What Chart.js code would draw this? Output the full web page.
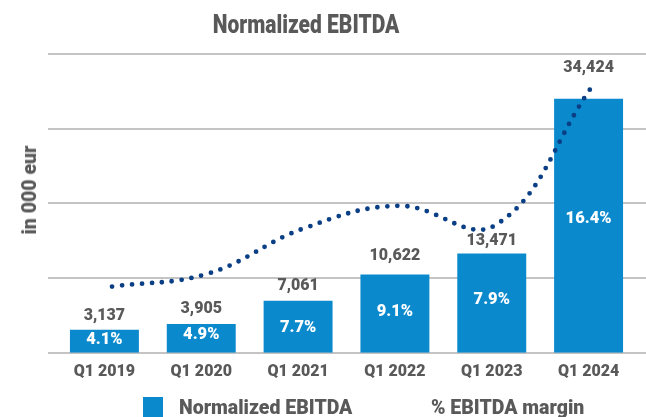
<!DOCTYPE html>
<html>
<head>
<meta charset="utf-8">
<script src="https://cdn.jsdelivr.net/npm/chart.js@4.4.1/dist/chart.umd.min.js"></script>
<style>
  html, body { margin: 0; padding: 0; background: #fff; }
  #wrap { position: relative; width: 646px; height: 417px; overflow: hidden; }
  #chart { position: absolute; left: 0; top: 0; }
  .txt { position: absolute; color: #595959; font-family: Roboto, "DejaVu Sans", sans-serif; font-weight: 900; white-space: nowrap; }
  #title { left: 306px; top: 9px; font-size: 25px; line-height: 32px; transform: translateX(-50%) scaleX(0.84); }
  #ytitle { left: 30px; top: 190px; font-size: 19.5px; line-height: 22px; transform: translate(-50%, -50%) rotate(-90deg); }
  .box { position: absolute; left: 143px; top: 397px; width: 20px; height: 22px; background: #0a89cd; }
  #leg1 { left: 179px; top: 396px; font-size: 19.5px; line-height: 24px; }
  #leg2 { left: 431px; top: 396px; font-size: 19.5px; line-height: 24px; }
</style>
</head>
<body>
<div id="wrap">
  <canvas id="chart" width="646" height="417"></canvas>
  <div class="txt" id="title">Normalized EBITDA</div>
  <div class="txt" id="ytitle">in 000 eur</div>
  <div class="box"></div>
  <div class="txt" id="leg1">Normalized EBITDA</div>
  <div class="txt" id="leg2">% EBITDA margin</div>
</div>
<script>
// data
const quarters = ["Q1 2019", "Q1 2020", "Q1 2021", "Q1 2022", "Q1 2023", "Q1 2024"];
const ebitda = [3137, 3905, 7061, 10622, 13471, 34424];
const marginPct = [4.1, 4.9, 7.7, 9.1, 7.9, 16.4];

const barBlue = "#0a89cd";
const navy = "#0a3f85";
const grey = "#595959";

// label placement tweaks (pixels)
const valueLift = [14, 15, 15, 18, 12, 31];
const pctShift = [-1, -4, 1, -2, -3, -7];

// long gridlines across the whole width
const gridPlugin = {
  id: "wideGrid",
  beforeDatasetsDraw(chart) {
    const ctx = chart.ctx;
    const y = chart.scales.y;
    ctx.save();
    ctx.strokeStyle = "#b0b0b0";
    ctx.lineWidth = 1.5;
    y.ticks.forEach(t => {
      const py = Math.round(y.getPixelForValue(t.value));
      ctx.beginPath();
      ctx.moveTo(48, py);
      ctx.lineTo(646, py);
      ctx.stroke();
    });
    ctx.restore();
  }
};

const labelPlugin = {
  id: "barLabels",
  afterDatasetsDraw(chart) {
    const ctx = chart.ctx;
    const bars = chart.getDatasetMeta(0).data;
    ctx.save();
    ctx.textAlign = "center";
    ctx.textBaseline = "middle";
    bars.forEach((bar, i) => {
      ctx.font = "900 16px Roboto, sans-serif";
      ctx.fillStyle = grey;
      ctx.fillText(ebitda[i].toLocaleString("en-US"), bar.x, bar.y - valueLift[i]);
      ctx.font = "900 16.5px Roboto, sans-serif";
      ctx.fillStyle = "#ffffff";
      ctx.fillText(marginPct[i].toFixed(1) + "%", bar.x, (bar.y + bar.base) / 2 + pctShift[i]);
    });
    ctx.restore();
  }
};

// the margin line sits slightly right of the bar centres in the original
const marginPoints = marginPct.map((v, i) => ({ x: i, y: v }));

new Chart(document.getElementById("chart"), {
  data: {
    labels: quarters,
    datasets: [
      {
        type: "bar",
        label: "Normalized EBITDA",
        data: ebitda,
        backgroundColor: barBlue,
        borderWidth: 0,
        grouped: false,
        barPercentage: 0.712,
        categoryPercentage: 1,
        xAxisID: "x",
        yAxisID: "y",
        order: 2
      },
      {
        type: "line",
        label: "% EBITDA margin",
        data: marginPoints,
        borderColor: navy,
        borderWidth: 4.8,
        borderDash: [0, 10],
        borderCapStyle: "round",
        tension: 0.4,
        pointRadius: 0,
        fill: false,
        xAxisID: "x2",
        yAxisID: "y1",
        order: 1
      }
    ]
  },
  options: {
    responsive: false,
    animation: false,
    devicePixelRatio: 1,
    layout: { padding: { left: 56, right: 9, top: 54, bottom: 25 } },
    plugins: {
      legend: { display: false },
      tooltip: { enabled: false }
    },
    scales: {
      x: {
        type: "category",
        grid: { display: false, drawTicks: false },
        border: { display: false },
        ticks: {
          color: grey,
          padding: 10,
          font: { family: "Roboto, sans-serif", weight: "900", size: 16 }
        }
      },
      x2: {
        type: "linear",
        position: "bottom",
        display: false,
        min: -0.585,
        max: 5.48
      },
      y: {
        display: false,
        min: 0,
        max: 40500,
        ticks: { stepSize: 10125 }
      },
      y1: {
        display: false,
        position: "right",
        min: 0,
        max: 18.5
      }
    }
  },
  plugins: [gridPlugin, labelPlugin]
});
</script>
</body>
</html>
